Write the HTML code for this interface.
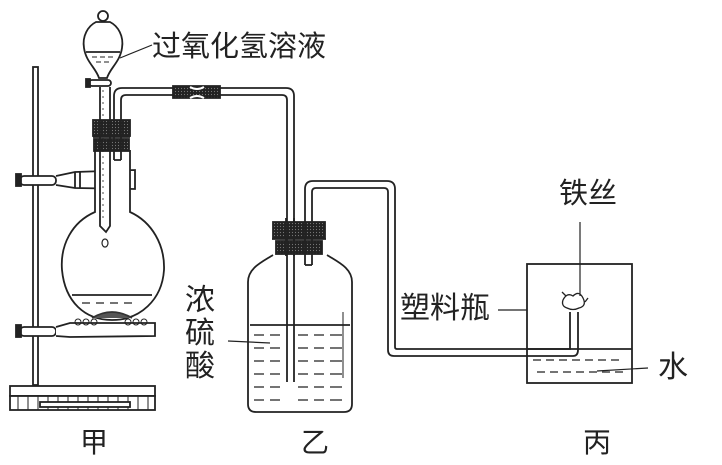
<!DOCTYPE html>
<html><head><meta charset="utf-8"><style>
html,body{margin:0;padding:0;background:#fff}
svg{display:block}
text{font-family:"Liberation Sans","Noto Sans CJK SC",sans-serif;fill:#222}
</style></head><body>
<svg width="722" height="465" viewBox="0 0 722 465" xmlns="http://www.w3.org/2000/svg">
<defs>
<pattern id="rub" width="3" height="3" patternUnits="userSpaceOnUse">
<rect width="3" height="3" fill="#222"/><circle cx="1.5" cy="1.5" r="0.6" fill="#777"/>
</pattern>
</defs>
<g fill="none" stroke="#222" stroke-width="1.8">
<!-- stand -->
<rect x="33" y="67" width="5" height="318" fill="#fff"/>
<rect x="10" y="386" width="145" height="10" fill="#fff"/>
<rect x="10" y="396" width="145" height="14" fill="#fff"/>
<g stroke-width="1">
<path d="M18 396v14M28 396v14M38 396v14M48 396v14M58 396v14M68 396v14M78 396v14M88 396v14M98 396v14M108 396v14M118 396v14M128 396v14M138 396v14M148 396v14"/>
</g>
<rect x="40" y="402" width="90" height="5" fill="#fff"/>
<!-- upper clamp -->
<rect x="20" y="176" width="36" height="9" rx="4" fill="#fff"/>
<rect x="16" y="174" width="5" height="12" fill="#222"/>
<path d="M56 176 L75 172 L135 170 L135 189 L75 188 L56 185"/>
<path d="M75 172v16M80 172v16"/>
<!-- lower clamp + ring -->
<rect x="20" y="327" width="36" height="9" rx="4" fill="#fff"/>
<rect x="16" y="325" width="5" height="12" fill="#222"/>
<path d="M56 327 L70 323 L155 323 L155 336 L70 337 L56 336" fill="#fff"/>
<g stroke-width="1"><circle cx="78" cy="322" r="3"/><circle cx="86" cy="322" r="3"/><circle cx="94" cy="322" r="3"/><circle cx="128" cy="322" r="3"/><circle cx="136" cy="322" r="3"/><circle cx="144" cy="322" r="3"/></g>
<!-- flask -->
<path d="M95 150 L95 212 C72 222 60 245 62 270 C65 302 85 320 112 320 C140 320 162 300 164 270 C165 245 152 222 130 212 L130 150" fill="#fff"/>
<path d="M72 295 H152"/>
<path d="M82 303h8M96 303h8M110 303h8M124 303h8" stroke-width="1.2"/>
<path d="M92 318 q20 -12 40 0" fill="#555" stroke="#333"/>
<ellipse cx="105" cy="243" rx="3" ry="4" stroke-width="1.2"/>
<!-- stopper flask -->
<rect x="93" y="120" width="37" height="16" fill="url(#rub)"/>
<rect x="94" y="139" width="35" height="12" fill="url(#rub)"/>
<path d="M93 137h37"/>
<!-- funnel -->
<circle cx="103" cy="16" r="5" fill="#fff"/>
<path d="M96 22 h14 C118 26 124 36 122 48 C120 62 110 68 107 78 L99 78 C96 68 86 62 84 48 C82 36 88 26 96 22 Z" fill="#fff"/>
<path d="M86 52 H120"/>
<path d="M92 57h5M100 57h5M108 57h5M96 62h5M104 62h5" stroke-width="1"/>
<rect x="89" y="80" width="22" height="6" rx="3" fill="#fff"/>
<rect x="86" y="79" width="4" height="8" fill="#222"/>
<path d="M100 87 V226 L106 232 L110 226 V87"/>
<path d="M103 90v130" stroke-width="0.8" stroke-dasharray="2 4"/>
<!-- tube 1 -->
<path d="M114 160 V96 Q114 88 122 88 H286 Q294 88 294 96 V382"/>
<path d="M121 160 V100 Q121 95 126 95 H282 Q287 95 287 100 V382"/>
<path d="M114 160 h7 M287 382 h7"/>
<path d="M173 86 H220 V98 H173 Z" fill="url(#rub)"/>
<path d="M190 87 Q197 91 204 87 M190 98 Q197 94 204 98" stroke="#fff" stroke-width="2"/>
<!-- bottle -->
<path d="M273 255 C262 262 248 268 248 282 V404 Q248 412 256 412 H344 Q352 412 352 404 V282 C352 268 338 262 327 255" fill="#fff"/>
<path d="M250 325 H350"/>
<g stroke-width="1.2">
<path d="M254 335h10M270 335h10M298 335h10M314 335h10M330 335h12"/>
<path d="M254 348h10M270 348h10M298 348h10M314 348h10M330 348h12"/>
<path d="M254 361h10M270 361h10M298 361h10M314 361h10M330 361h12"/>
<path d="M254 374h10M270 374h10M298 374h10M314 374h10M330 374h12"/>
<path d="M254 387h10M270 387h10M298 387h10M314 387h10M330 387h12"/>
<path d="M254 400h10M270 400h10M298 400h10M314 400h10M330 400h12"/>
</g>
<path d="M287 255 V382 M294 255 V382"/>
<path d="M343 312 V378" stroke-width="1"/>
<rect x="273" y="222" width="52" height="16" fill="url(#rub)"/>
<rect x="276" y="241" width="46" height="13" fill="url(#rub)"/>
<path d="M272 239h54"/>
<path d="M286 218 V256 M294 218 V256" />
<!-- tube 2 -->
<path d="M305 265 V189 Q305 181 313 181 H387 Q395 181 395 189 V347 Q395 349 397 349 H570 V312"/>
<path d="M312 265 V192 Q312 188 316 188 H384 Q388 188 388 192 V350 Q388 356 394 356 H573 Q578 356 578 350 V312"/>
<path d="M305 265 h7"/>
<!-- box 丙 -->
<rect x="527" y="264" width="105" height="119"/>
<path d="M527 349 H632"/>
<path d="M533 360h8M546 360h8M559 360h8M572 360h8M585 360h8M598 360h8M611 360h8M537 372h8M550 372h8M563 372h8M576 372h8M589 372h8M602 372h8M615 372h8" stroke-width="1.2"/>
<path d="M563 300 q4 -8 10 -4 q6 -6 10 2 q4 8 -4 10 q-6 3 -12 0 q-6 -2 -4 -8z M566 296 l-4 -4 M585 302 l3 -4" stroke-width="1.3"/>
<!-- label lines -->
<path d="M120 58 L152 45" stroke-width="1.2"/>
<path d="M228 341 L270 343" stroke-width="1.2"/>
<path d="M498 310 H527" stroke-width="1.2"/>
<path d="M580 222 V296" stroke-width="1.2"/>
<path d="M597 371 L648 368" stroke-width="1.2"/>
</g>
<text x="152" y="56" font-size="29">过氧化氢溶液</text>
<text x="185" y="310" font-size="30">浓</text>
<text x="185" y="343" font-size="30">硫</text>
<text x="185" y="376" font-size="30">酸</text>
<text x="559" y="203" font-size="29">铁丝</text>
<text x="400" y="318" font-size="30">塑料瓶</text>
<text x="658" y="377" font-size="30">水</text>
<text x="80" y="452" font-size="28">甲</text>
<text x="301" y="452" font-size="28">乙</text>
<text x="583" y="452" font-size="28">丙</text>
</svg>
</body></html>
